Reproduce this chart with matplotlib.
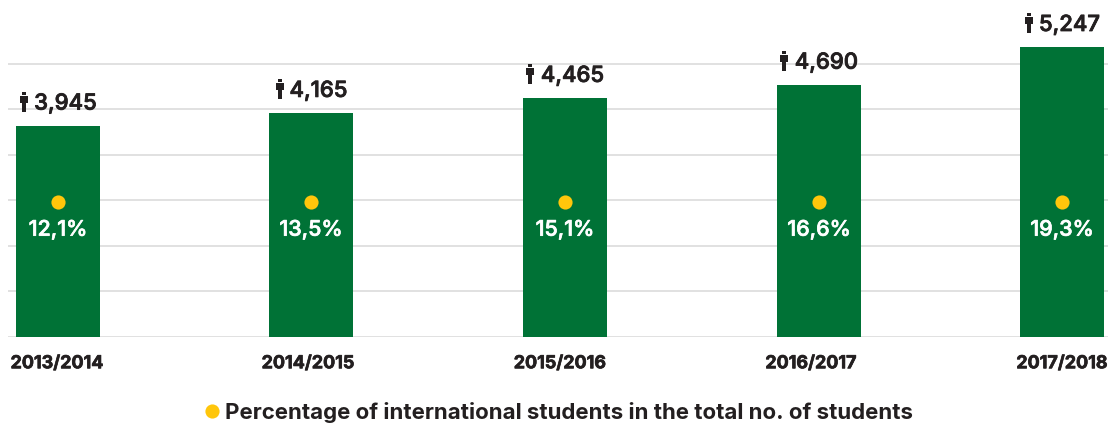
import matplotlib
matplotlib.use("Agg")
import matplotlib.pyplot as plt
import matplotlib.patheffects as pe
from matplotlib.path import Path
from matplotlib.lines import Line2D

# --- data ---
years = ["2013/2014", "2014/2015", "2015/2016", "2016/2017", "2017/2018"]
students = [3945, 4165, 4465, 4690, 5247]
shares = ["12,1%", "13,5%", "15,1%", "16,6%", "19,3%"]
bar_heights = [4.64, 4.92, 5.25, 5.54, 6.37]  # bar tops in gridline units
grid_levels = [0, 1, 2, 3, 4, 5, 6]
legend_label = "Percentage of international students in the total no. of students"

# --- layout ---
W, H = 1108, 423
bar_centers = [58, 311, 565, 819, 1062]
label_centers = [57, 308, 560, 811, 1062]
person_dx = [-34, -31, -35, -35, -33]
GREEN, YELLOW, DARK, GRID = "#007236", "#FFC60B", "#231F20", "#DCDCDC"
FONT = "Inter"

plt.rcParams["font.family"] = FONT
fig = plt.figure(figsize=(W / 100, H / 100), dpi=100, facecolor="white")
y0 = 336.5
ax = fig.add_axes([8 / W, 1 - y0 / H, 1100 / W, y0 / H])
ax.set_xlim(8, 1108)
ax.set_ylim(0, y0 / 45.45)
for s in ax.spines.values():
    s.set_visible(False)
ax.set_yticks(grid_levels)
ax.set_yticklabels([])
ax.tick_params(axis="y", length=0)
ax.grid(axis="y", color=GRID, linewidth=1.2)
ax.set_axisbelow(True)

ax.bar(bar_centers, bar_heights, width=84, color=GREEN, zorder=2)

ax.set_xticks(label_centers)
ax.set_xticklabels(years, fontsize=12.9, fontweight="bold", color=DARK,
                   path_effects=[pe.withStroke(linewidth=0.5, foreground=DARK)])
ax.tick_params(axis="x", length=0, pad=13.5)

# person glyph as marker
person = Path(
    [(-0.17, 1.0), (0.17, 1.0), (0.17, 0.68), (-0.17, 0.68), (-0.17, 1.0),
     (-0.40, 0.60), (0.40, 0.60), (0.40, -0.05), (0.24, -0.05), (0.24, -1.0),
     (0.04, -1.0), (0.04, -0.20), (-0.04, -0.20), (-0.04, -1.0), (-0.24, -1.0),
     (-0.24, -0.05), (-0.40, -0.05), (-0.40, 0.60)],
    [Path.MOVETO, Path.LINETO, Path.LINETO, Path.LINETO, Path.CLOSEPOLY,
     Path.MOVETO, Path.LINETO, Path.LINETO, Path.LINETO, Path.LINETO,
     Path.LINETO, Path.LINETO, Path.LINETO, Path.LINETO, Path.LINETO,
     Path.LINETO, Path.LINETO, Path.CLOSEPOLY],
)

px = 0.72  # points per pixel
for xc, h, n, pct, dx in zip(bar_centers, bar_heights, students, shares, person_dx):
    ax.annotate(f"{n:,}", (xc, h), xytext=(7.5 * px, 16 * px), textcoords="offset points",
                ha="center", va="baseline", fontsize=15.9, fontweight="medium",
                color=DARK, annotation_clip=False,
                path_effects=[pe.withStroke(linewidth=0.6, foreground=DARK)])
    t = ax.transData.transform((xc, h))
    fig.add_artist(Line2D([(t[0] + dx) / W], [(t[1] + 24) / H], transform=fig.transFigure,
                          marker=person, markersize=15, color=DARK, markeredgewidth=0,
                          linestyle="none"))
    ax.plot([xc], [2.95], marker="o", markersize=10.2, color=YELLOW,
            markeredgewidth=0, zorder=3, linestyle="none")
    ax.text(xc, 2.35, pct, ha="center", va="center", color="white", fontsize=15.4,
            fontweight="medium", zorder=3,
            path_effects=[pe.withStroke(linewidth=0.5, foreground="white")])

handle = Line2D([], [], marker="o", markersize=10.2, color=YELLOW, markeredgewidth=0, linestyle="none")
fig.legend([handle], [legend_label], loc="center", bbox_to_anchor=(557 / W, 1 - 412 / H),
           frameon=False, handletextpad=0.1, handlelength=1.0,
           prop={"family": FONT, "weight": "bold", "size": 16.0}, labelcolor=DARK,
           borderpad=0, borderaxespad=0)

fig.savefig("out.png", dpi=100, facecolor="white")
